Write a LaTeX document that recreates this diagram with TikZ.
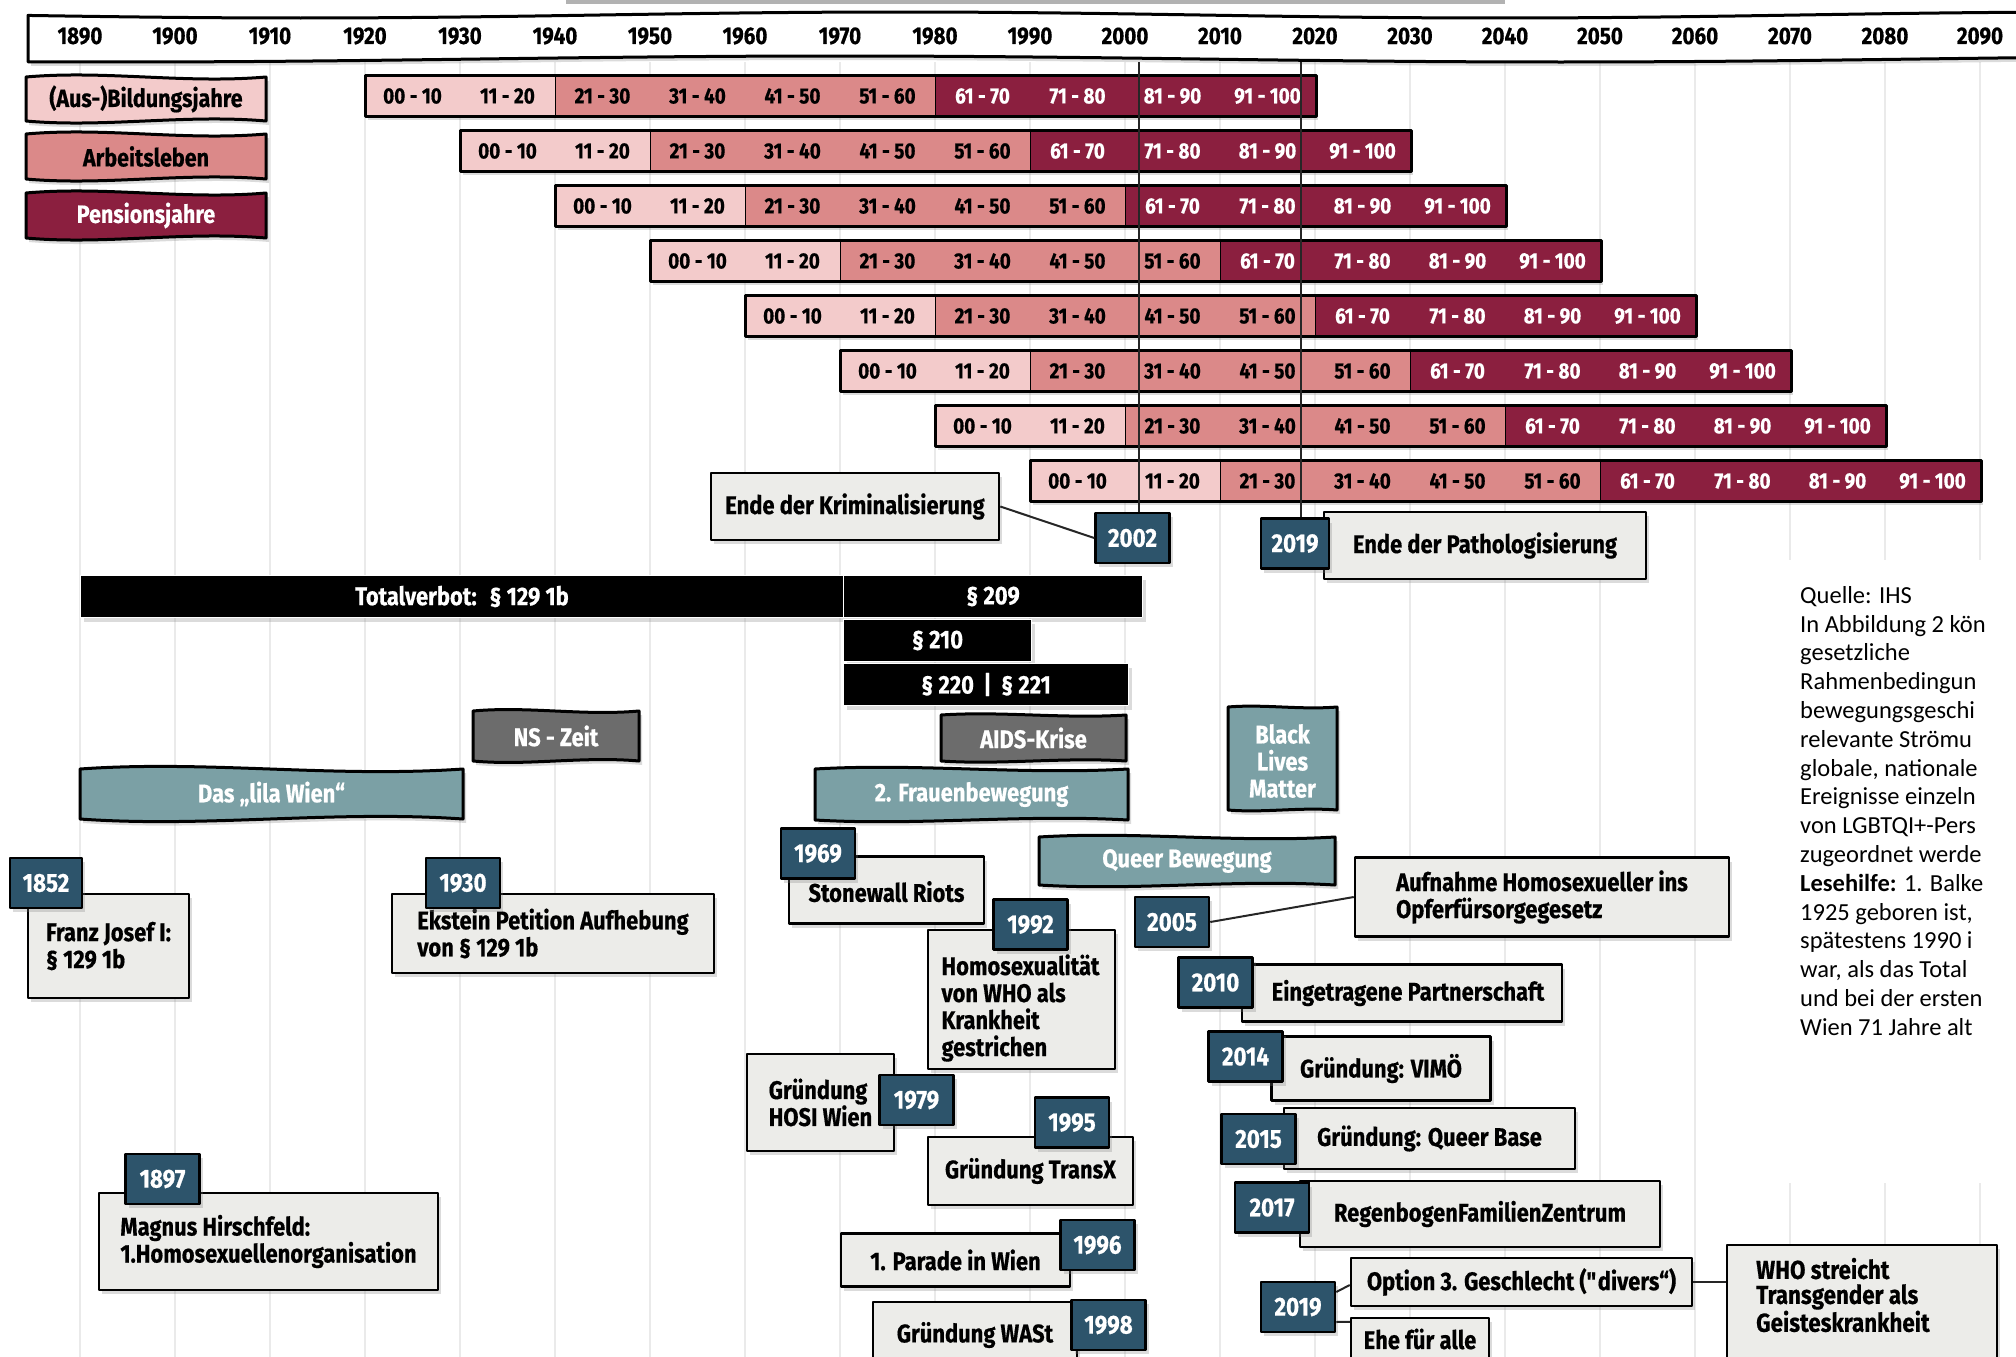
\documentclass[tikz,border=0pt]{standalone}
\usepackage{fontspec}
\setmainfont{Fira Sans}[FakeStretch=0.86,BoldFeatures={FakeBold=0.5}]
\newfontfamily\calfont{Carlito}
\usetikzlibrary{shadows,calc}
\definecolor{cLight}{RGB}{243,203,203}
\definecolor{cMed}{RGB}{219,137,137}
\definecolor{cDark}{RGB}{139,31,63}
\definecolor{cTeal}{RGB}{123,160,165}
\definecolor{cGray}{RGB}{108,108,108}
\definecolor{cTag}{RGB}{45,84,107}
\definecolor{cBox}{RGB}{236,236,233}
\definecolor{cGrid}{RGB}{234,234,234}
% wavy rectangle: x1,y1,x2,y2,amplitude,style
\newcommand\wavyshape[6]{\path[#6] (#1,#2) .. controls ({#1+0.33*(#3-#1)},{#2-#5}) and ({#1+0.66*(#3-#1)},{#2+#5}) .. (#3,#2) -- (#3,#4) .. controls ({#1+0.66*(#3-#1)},{#4-#5}) and ({#1+0.33*(#3-#1)},{#4+#5}) .. (#1,#4) -- cycle;}
\newcommand\straightquote{{\XeTeXglyph\XeTeXcharglyph"22\relax}}
\begin{document}
\begin{tikzpicture}[x=1pt,y=-1pt,line join=round,
  shad/.style={drop shadow={shadow xshift=3pt,shadow yshift=-4pt,opacity=0.28}},
  yrlab/.style={font=\fontsize{24}{26}\selectfont\bfseries,inner sep=0pt},
  segbox/.style={draw=black,line width=1.2pt,minimum height=40pt,inner sep=0pt,anchor=west},
  seglab/.style={font=\fontsize{22}{24}\selectfont\bfseries,inner sep=0pt},
  leglab/.style={font=\fontsize{25}{28}\selectfont\bfseries,inner sep=0pt},
  lawbar/.style={fill=black,draw=white,line width=1pt,text=white,font=\fontsize{25.5}{28}\selectfont\bfseries,inner sep=0pt,anchor=north west,shad},
  catlab/.style={font=\fontsize{25.5}{27}\selectfont\bfseries,text=white,inner sep=0pt,align=center},
  evtbox/.style={draw,line width=2.5pt,fill=cBox,font=\fontsize{25.5}{27}\selectfont\bfseries,align=left,inner sep=0pt,shad},
  evttxt/.style={font=\fontsize{25.5}{27}\selectfont\bfseries,align=left,inner sep=0pt},
  tagbox/.style={draw,line width=2.5pt,fill=cTag,text=white,font=\fontsize{26}{28}\selectfont\bfseries,minimum width=74pt,minimum height=50pt,inner sep=0pt,shad},
  conn/.style={line width=2pt,black!85},
  vline/.style={line width=1.6pt,black!85},
  gridln/.style={line width=1.6pt,cGrid},
  sidetxt/.style={font=\calfont\fontsize{24.5}{28.8}\selectfont,align=left,inner sep=0pt,anchor=north west}
]
\useasboundingbox (0,0) rectangle (2016,1357);
\fill[white] (0,0) rectangle (2016,1357);
% top shadow strip
\fill[black!30] (566,0) rectangle (1505,4);
% grid lines
\foreach \k in {0,...,20}{
  \pgfmathsetmacro\xx{80+95*\k}
  \draw[gridln] (\xx,62) -- (\xx,1357);
}
% header band
\draw[fill=white,line width=3pt,shad] plot[domain=28:2040,samples=60,smooth] (\x,{15+3*sin(\x*0.3)}) -- plot[domain=2040:28,samples=60,smooth] (\x,{59+3*sin(\x*0.25+60)}) -- cycle;
\foreach \k in {0,...,20}{
  \pgfmathsetmacro\xx{80+95*\k}
  \pgfmathtruncatemacro\yy{1890+10*\k}
  \node[yrlab] (yr\yy) at (\xx,36) {\yy};
}
% legend
\wavyshape{26}{77}{266}{121}{7}{draw,line width=3pt,fill=cLight,shad}
\node[leglab] (legA) at (146,99) {(Aus-)Bildungsjahre};
\wavyshape{26}{134}{266}{179}{7}{draw,line width=3pt,fill=cMed,shad}
\node[leglab] (legB) at (146,156.5) {Arbeitsleben};
\wavyshape{26}{193}{266}{238}{7}{draw,line width=3pt,fill=cDark,shad}
\node[leglab,text=white] (legC) at (146,215.5) {Pensionsjahre};
% age bars
\foreach \r in {0,...,7}{
  \pgfmathsetmacro\xa{365+95*\r}
  \pgfmathsetmacro\ya{96+55*\r}
  \path[shad] ({\xa},{\ya-20}) rectangle ++(950,40);
  \node[segbox,fill=cLight,minimum width=190pt] (lt\r) at ({\xa},{\ya}) {};
  \node[segbox,fill=cMed,minimum width=380pt] (md\r) at ({\xa+190},{\ya}) {};
  \node[segbox,fill=cDark,minimum width=380pt] (dk\r) at ({\xa+570},{\ya}) {};
  \draw[line width=3pt] (lt\r.north west) rectangle (dk\r.south east);
  \foreach \i/\lab in {0/00 - 10,1/11 - 20,2/21 - 30,3/31 - 40,4/41 - 50,5/51 - 60}{
    \node[seglab] (sl\r-\i) at ({\xa+95*\i+47.5},{\ya}) {\lab};
  }
  \foreach \i/\lab in {6/61 - 70,7/71 - 80,8/81 - 90,9/91 - 100}{
    \node[seglab,text=white] (sl\r-\i) at ({\xa+95*\i+47.5},{\ya}) {\lab};
  }
}
% law bars
\node[lawbar,minimum width=763pt,minimum height=42pt] (tv) at (80,575) {Totalverbot:\enspace§ 129 1b};
\node[lawbar,minimum width=299pt,minimum height=42pt] (p209) at (843,575) {§ 209};
\node[lawbar,minimum width=188pt,minimum height=42pt] (p210) at (843,619) {§ 210};
\node[lawbar,minimum width=285pt,minimum height=42pt] (p220) at (843,663) {§ 220 \,|\, § 221};
% category boxes
\wavyshape{473}{711}{639}{761}{5}{draw,line width=3pt,fill=cGray,shad}
\node[catlab] (ns) at (556,736) {NS - Zeit};
\wavyshape{941}{715}{1126}{761}{4}{draw,line width=3pt,fill=cGray,shad}
\node[catlab] (aids) at (1033.5,738) {AIDS-Krise};
\wavyshape{80}{769}{463}{819}{9}{draw,line width=3pt,fill=cTeal,shad}
\node[catlab] (lila) at (271.5,794) {Das „lila Wien“};
\wavyshape{815}{769}{1128}{820}{6}{draw,line width=3pt,fill=cTeal,shad}
\node[catlab] (frau) at (971.5,794.5) {2. Frauenbewegung};
\wavyshape{1228}{707}{1337}{810}{3}{draw,line width=3pt,fill=cTeal,shad}
\node[catlab] (blm) at (1282.5,761) {Black\\Lives\\Matter};
\wavyshape{1039}{837}{1335}{885}{6}{draw,line width=3pt,fill=cTeal,shad}
\node[catlab] (queer) at (1187,861) {Queer Bewegung};
% pathologisation / criminalisation
\node[evtbox,minimum width=288pt,minimum height=67pt] (krim) at (855,506.5) {Ende der Kriminalisierung};
\node[evtbox,minimum width=322pt,minimum height=67pt] (patho) at (1485,545.5) {Ende der Pathologisierung};
\node[tagbox] (t2002) at (1132.5,538) {2002};
\node[tagbox,minimum width=68pt] (t2019a) at (1295,543.5) {2019};
\draw[conn] (krim.east) -- (t2002.west);
\coordinate (v2002) at (1139,62);
\coordinate (v2019) at (1301,62);
\draw[vline] (v2002) -- (v2002 |- t2002.north);
\draw[vline] (v2019) -- (v2019 |- t2019a.north);
% event boxes
\node[evtbox,minimum width=161pt,minimum height=104pt] (b1852) at (108.5,946) {Franz Josef I:\\§ 129 1b};
\node[evtbox,minimum width=322pt,minimum height=79pt] (b1930) at (553,933.5) {Ekstein Petition Aufhebung\\von § 129 1b};
\node[evtbox,minimum width=339pt,minimum height=97pt] (b1897) at (268.5,1241.5) {Magnus Hirschfeld:\\1.Homosexuellenorganisation};
\node[evtbox,minimum width=195pt,minimum height=67pt] (b1969) at (886.5,890) {\rule{0pt}{24pt}Stonewall Riots};
\node[evtbox,minimum width=187pt,minimum height=139pt] (b1992) at (1021.5,999.5) {};
\node[evttxt] (b1992t) at (1020.5,1008) {Homosexualität\\von WHO als\\Krankheit\\gestrichen};
\node[evtbox,minimum width=147pt,minimum height=97pt] (b1979) at (820.5,1102.5) {Gründung\\HOSI Wien};
\node[evtbox,minimum width=205pt,minimum height=68pt] (b1995) at (1030.5,1171) {Gründung TransX};
\node[evtbox,minimum width=229pt,minimum height=53pt] (b1996) at (955.5,1260) {1. Parade in Wien};
\node[evtbox,minimum width=204pt,minimum height=66pt] (b1998) at (975,1335) {Gründung WASt};
\node[evtbox,minimum width=374pt,minimum height=79pt] (b2005) at (1542,897) {Aufnahme Homosexueller ins\\Opferfürsorgegesetz};
\node[evtbox,minimum width=320pt,minimum height=57pt] (b2010) at (1402,993) {\hspace*{12pt}Eingetragene Partnerschaft};
\node[evtbox,minimum width=219pt,minimum height=64pt] (b2014) at (1381,1068.5) {Gründung: VIMÖ};
\node[evtbox,minimum width=291pt,minimum height=61pt] (b2015) at (1429.5,1138.5) {Gründung: Queer Base};
\node[evtbox,minimum width=360pt,minimum height=66pt] (b2017) at (1480,1214) {RegenbogenFamilienZentrum};
\node[evtbox,minimum width=341pt,minimum height=48pt] (opt) at (1521.5,1282) {Option 3. Geschlecht (\straightquote divers“)};
\node[evtbox,minimum width=138pt,minimum height=42pt] (ehe) at (1420,1339) {Ehe für alle};
\node[evtbox,minimum width=270pt,minimum height=130pt] (who) at (1862,1310) {};
\node[font=\fontsize{26}{25}\selectfont\bfseries,align=left,inner sep=0pt,anchor=west] (whot) at (1756,1295) {WHO streicht\\Transgender als\\Geisteskrankheit};
% year tags
\node[tagbox,minimum width=72pt] (t1852) at (46,883) {1852};
\node[tagbox] (t1930) at (463,883) {1930};
\node[tagbox] (t1897) at (162.5,1179) {1897};
\node[tagbox] (t1969) at (818,853.5) {1969};
\node[tagbox] (t1992) at (1030.5,924.5) {1992};
\node[tagbox] (t1979) at (916.5,1100) {1979};
\node[tagbox] (t1995) at (1072,1122.5) {1995};
\node[tagbox] (t1996) at (1097.5,1245) {1996};
\node[tagbox] (t1998) at (1108.5,1325) {1998};
\node[tagbox] (t2005) at (1172,922) {2005};
\node[tagbox] (t2010) at (1215.5,982.5) {2010};
\node[tagbox] (t2014) at (1245.5,1056.5) {2014};
\node[tagbox] (t2015) at (1258.5,1139) {2015};
\node[tagbox] (t2017) at (1272,1207.5) {2017};
\node[tagbox] (t2019b) at (1298,1307) {2019};
% connectors
\draw[conn] (t2005.east) -- (b2005.west);
\draw[conn] ([yshift=15pt]t2019b.east) -- ([yshift=-3pt]opt.west);
\draw[conn] ([yshift=-15pt]t2019b.east) -- ([yshift=-5pt]ehe.north west);
\draw[conn] (opt.east) -- (opt.east -| who.west);
% side text
\fill[white] (1745,560) rectangle (2016,1183);
\node[sidetxt] (src) at (1800,586) {Quelle: IHS\\In Abbildung 2 kön\\gesetzliche\\Rahmenbedingun\\bewegungsgeschi\\relevante Strömu\\globale, nationale\\Ereignisse einzeln\\von LGBTQI+-Pers\\zugeordnet werde\\\textbf{Lesehilfe:} 1. Balke\\1925 geboren ist,\\spätestens 1990 i\\war, als das Total\\und bei der ersten\\Wien 71 Jahre alt};
\end{tikzpicture}
\end{document}
